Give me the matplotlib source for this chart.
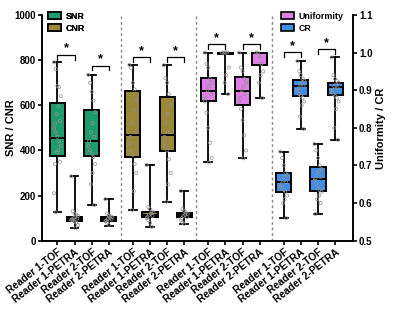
import numpy as np
import matplotlib as mpl
mpl.use("Agg")
import matplotlib.pyplot as plt
from matplotlib.patches import Patch

# DATA

labels = ["Reader 1-TOF", "Reader 1-PETRA", "Reader 2-TOF", "Reader 2-PETRA"]
groups = ["SNR", "CNR", "Uniformity", "CR"]
colors = ["#1e9c6e", "#9a8838", "#e07ee8", "#3d8ee8"]

# five-number summaries (min, q1, median, q3, max) per reader, in label order
snr_stats = [[126, 376, 457, 610, 790], [55, 86, 96, 106, 285],
             [158, 376, 440, 577, 735], [67, 86, 96, 104, 184]]
cnr_stats = [[136, 372, 466, 665, 779], [62, 104, 115, 126, 336],
             [173, 398, 466, 636, 777], [74, 103, 112, 122, 220]]
unif_stats = [[0.708, 0.870, 0.898, 0.932, 1.0], [0.889, 0.995, 1.0, 1.0, 1.0],
              [0.719, 0.861, 0.898, 0.936, 1.0], [0.879, 0.966, 0.999, 1.0, 1.0]]
cr_stats = [[0.560, 0.630, 0.655, 0.679, 0.737], [0.797, 0.884, 0.912, 0.926, 0.977],
            [0.571, 0.632, 0.663, 0.695, 0.757], [0.768, 0.887, 0.908, 0.920, 0.987]]

# individual points
snr_pts = [[790, 760, 685, 680, 640, 595, 560, 530, 520, 500, 480, 460, 440, 420, 400, 390, 350, 340, 210, 126],
           [285, 130, 120, 115, 110, 105, 100, 98, 95, 92, 90, 85, 80, 70, 55],
           [735, 700, 660, 620, 570, 520, 480, 460, 440, 420, 400, 385, 370, 340, 300, 250, 158],
           [184, 120, 112, 108, 104, 100, 97, 94, 90, 86, 80, 70]]
cnr_pts = [[779, 765, 700, 670, 620, 580, 520, 480, 460, 430, 400, 380, 340, 300, 220, 136],
           [336, 150, 140, 130, 125, 120, 115, 110, 105, 100, 90, 80, 62],
           [777, 720, 700, 650, 600, 560, 520, 480, 460, 440, 420, 400, 360, 300, 250, 173],
           [220, 140, 130, 125, 120, 115, 110, 105, 100, 90, 80, 74]]
unif_pts = [[1.0, 0.97, 0.96, 0.93, 0.92, 0.91, 0.90, 0.89, 0.88, 0.87, 0.84, 0.80, 0.76, 0.72, 0.708],
            [1.0, 1.0, 1.0, 1.0, 0.96, 0.94, 0.92, 0.889],
            [1.0, 0.96, 0.95, 0.93, 0.92, 0.91, 0.90, 0.89, 0.88, 0.87, 0.85, 0.82, 0.78, 0.74, 0.719],
            [1.0, 1.0, 0.99, 0.97, 0.95, 0.94, 0.92, 0.879]]
cr_pts = [[0.737, 0.72, 0.70, 0.68, 0.675, 0.67, 0.66, 0.655, 0.65, 0.645, 0.64, 0.635, 0.63, 0.62, 0.61, 0.60, 0.56],
          [0.977, 0.95, 0.94, 0.93, 0.925, 0.92, 0.915, 0.91, 0.905, 0.90, 0.89, 0.885, 0.88, 0.87, 0.86, 0.83, 0.797],
          [0.757, 0.74, 0.72, 0.70, 0.69, 0.685, 0.68, 0.67, 0.665, 0.66, 0.65, 0.64, 0.635, 0.63, 0.62, 0.61, 0.60, 0.571],
          [0.987, 0.94, 0.93, 0.925, 0.92, 0.915, 0.91, 0.905, 0.90, 0.895, 0.89, 0.885, 0.88, 0.87, 0.85, 0.80, 0.768]]

# significance bracket heights (TOF vs PETRA, per reader)
snr_sig = [824, 776]
cnr_sig = [812, 812]
unif_sig = [1.023, 1.023]
cr_sig = [1.001, 1.009]

# PLOT

plt.rcParams['font.family'] = ['Liberation Sans', 'DejaVu Sans']
plt.rcParams['font.weight'] = 'bold'

fig = plt.figure(figsize=(4, 3.11), dpi=100)
ax = fig.add_axes([0.105, 0.226, 0.777, 0.726])
ax2 = ax.twinx()

step = 4.4
def positions(g):
    return [g * step + i for i in range(4)]

def draw_group(a, g, stats, pts, sig, color, h):
    pos = positions(g)
    bx = [dict(whislo=s[0], q1=s[1], med=s[2], q3=s[3], whishi=s[4], fliers=[]) for s in stats]
    a.bxp(bx, positions=pos, widths=0.88, patch_artist=True, showfliers=False,
          capwidths=0.45,
          boxprops=dict(facecolor=color, edgecolor='black', linewidth=1.4),
          medianprops=dict(color='black', linewidth=1.4),
          whiskerprops=dict(color='black', linewidth=1.3),
          capprops=dict(color='black', linewidth=1.3), zorder=2)
    offs = [-0.2, -0.1, 0.0, 0.1, 0.2, 0.05, -0.05, 0.15, -0.15]
    for p, vals in zip(pos, pts):
        xs = [p + offs[k % len(offs)] for k in range(len(vals))]
        a.scatter(xs, vals, s=5, facecolors='none', edgecolors='#909090',
                  linewidths=0.5, zorder=3)
    for r in range(2):
        x1, x2 = pos[2 * r], pos[2 * r + 1]
        y = sig[r]
        a.plot([x1, x1, x2, x2], [y - h, y, y, y - h], color='black', lw=0.9, zorder=4)
        a.text((x1 + x2) / 2, y, '*', ha='center', va='bottom', fontsize=9,
               fontweight='bold')

draw_group(ax, 0, snr_stats, snr_pts, snr_sig, colors[0], 22)
draw_group(ax, 1, cnr_stats, cnr_pts, cnr_sig, colors[1], 22)
draw_group(ax2, 2, unif_stats, unif_pts, unif_sig, colors[2], 0.013)
draw_group(ax2, 3, cr_stats, cr_pts, cr_sig, colors[3], 0.013)

# dashed separators
for g in range(1, 4):
    ax.axvline(g * step - 0.7, color='#888888', lw=1.0, ls=(0, (2, 2)), zorder=1)

xmin, xmax = -0.9, 3 * step + 3 + 1.03
ax.set_xlim(xmin, xmax)
ax2.set_xlim(xmin, xmax)
ax.set_ylim(0, 1000)
ax2.set_ylim(0.5, 1.1)

allpos = [p for g in range(4) for p in positions(g)]
ax.set_xticks(allpos)
ax.set_xticklabels(labels * 4, rotation=38, ha='right', rotation_mode='anchor',
                   fontsize=7.3, fontweight='bold')
ax.set_yticks([0, 200, 400, 600, 800, 1000])
ax2.set_yticks([0.5, 0.6, 0.7, 0.8, 0.9, 1.0, 1.1])
for a in (ax, ax2):
    a.tick_params(axis='y', labelsize=7, width=1.2, length=3, pad=1.5, direction='out')
    a.spines['top'].set_visible(False)
    for s in ('left', 'right', 'bottom'):
        a.spines[s].set_linewidth(1.2)
    for t in a.get_yticklabels():
        t.set_fontweight('bold')
ax.tick_params(axis='x', labelsize=7.3, width=1.2, length=3, pad=1.5, direction='out')

ax.set_ylabel("SNR / CNR", fontsize=8, fontweight='bold')
ax.yaxis.set_label_coords(-0.084, 0.5)
ax2.set_ylabel("Uniformity / CR", fontsize=8, fontweight='bold', rotation=90)
ax2.yaxis.set_label_coords(1.075, 0.5)

h1 = [Patch(facecolor=colors[0], edgecolor='black', lw=1.2, label='SNR'),
      Patch(facecolor=colors[1], edgecolor='black', lw=1.2, label='CNR')]
h2 = [Patch(facecolor=colors[2], edgecolor='black', lw=1.2, label='Uniformity'),
      Patch(facecolor=colors[3], edgecolor='black', lw=1.2, label='CR')]
leg_kw = dict(loc='upper left', frameon=False, fontsize=6.4, handlelength=1.5,
              handleheight=0.7, labelspacing=0.35, handletextpad=0.5,
              borderaxespad=0, borderpad=0)
leg1 = ax.legend(handles=h1, bbox_to_anchor=(0.019, 1.015), **leg_kw)
ax.add_artist(leg1)
ax2.legend(handles=h2, bbox_to_anchor=(0.769, 1.015), **leg_kw)

fig.savefig("out.png", dpi=100)
